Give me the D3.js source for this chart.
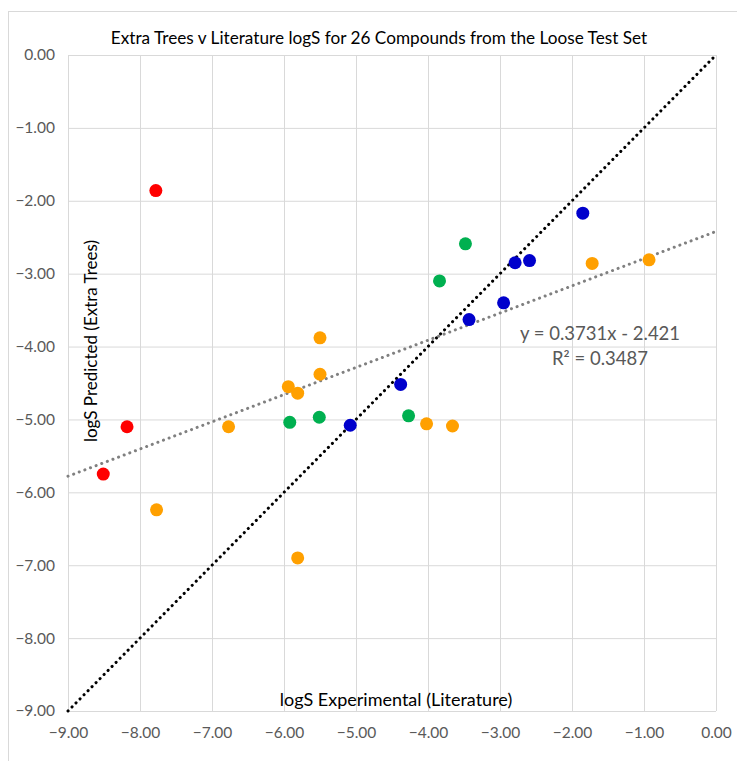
<!DOCTYPE html>
<html>
<head>
<meta charset="utf-8">
<script src="https://cdn.jsdelivr.net/npm/d3@7/dist/d3.min.js"></script>
<style>
  html, body { margin: 0; padding: 0; background: #fff; }
  svg { display: block; }
  text { font-family: Lato, "Open Sans", sans-serif; }
</style>
</head>
<body>
<svg id="chart" width="737" height="761"></svg>
<script>
// Experimental (x) and predicted (y) logS, grouped by colour class
const redX    = [-7.78, -8.18, -8.51];
const redY    = [-1.86, -5.10, -5.75];
const orangeX = [-7.77, -6.77, -5.94, -5.81, -5.50, -5.50, -5.81, -4.02, -3.66, -1.72, -0.93];
const orangeY = [-6.24, -5.10, -4.55, -4.64, -4.38, -3.88, -6.90, -5.06, -5.09, -2.86, -2.81];
const greenX  = [-5.92, -5.51, -4.27, -3.84, -3.48];
const greenY  = [-5.04, -4.97, -4.95, -3.10, -2.59];
const blueX   = [-5.08, -4.38, -3.43, -2.95, -2.79, -2.59, -1.85];
const blueY   = [-5.08, -4.52, -3.63, -3.40, -2.85, -2.82, -2.17];

const xTicks = [-9, -8, -7, -6, -5, -4, -3, -2, -1, 0];
const yTicks = [0, -1, -2, -3, -4, -5, -6, -7, -8, -9];

// Linear trend fitted to all compounds
const trendSlope = 0.3731;
const trendIntercept = -2.421;
const trendLabel = "y = 0.3731x - 2.421";
const r2Label = "R² = 0.3487";

const title = "Extra Trees v Literature logS for 26 Compounds from the Loose Test Set";
const xTitle = "logS Experimental (Literature)";
const yTitle = "logS Predicted (Extra Trees)";

const series = [
  { xs: redX, ys: redY, color: "#ff0000" },
  { xs: orangeX, ys: orangeY, color: "#ffa000" },
  { xs: greenX, ys: greenY, color: "#00b050" },
  { xs: blueX, ys: blueY, color: "#0000cc" }
];

const svg = d3.select("#chart");
const plot = { left: 68, top: 55, width: 648, height: 656 };

const x = d3.scaleLinear().domain([-9, 0]).range([plot.left, plot.left + plot.width]);
const y = d3.scaleLinear().domain([-9, 0]).range([plot.top + plot.height, plot.top]);

// Outer chart frame
svg.append("rect")
  .attr("x", 8.5).attr("y", 11.5)
  .attr("width", 740).attr("height", 760)
  .attr("fill", "#fff").attr("stroke", "#d9d9d9").attr("stroke-width", 1);

// Gridlines
const grid = svg.append("g");
grid.append("g")
  .attr("transform", `translate(0,${plot.top + plot.height})`)
  .call(d3.axisBottom(x).tickValues(xTicks).tickSize(-plot.height).tickFormat(""))
  .call(g => g.select(".domain").remove())
  .call(g => g.selectAll("line").attr("stroke", "#d9d9d9"));
grid.append("g")
  .attr("transform", `translate(${plot.left},0)`)
  .call(d3.axisLeft(y).tickValues(yTicks).tickSize(-plot.width).tickFormat(""))
  .call(g => g.select(".domain").remove())
  .call(g => g.selectAll("line").attr("stroke", "#d9d9d9"));

// Tick labels
const fmt = d3.format(".2f");
svg.append("g")
  .attr("transform", `translate(0,${plot.top + plot.height})`)
  .call(d3.axisBottom(x).tickValues(xTicks).tickSize(0).tickPadding(16).tickFormat(fmt))
  .call(g => g.select(".domain").remove())
  .call(g => g.selectAll("text").attr("fill", "#595959").attr("font-size", 15.5)
    .style("font-family", "Lato, sans-serif"));
svg.append("g")
  .attr("transform", `translate(${plot.left},0)`)
  .call(d3.axisLeft(y).tickValues(yTicks).tickSize(0).tickPadding(13).tickFormat(fmt))
  .call(g => g.select(".domain").remove())
  .call(g => g.selectAll("text").attr("fill", "#595959").attr("font-size", 15.5)
    .style("font-family", "Lato, sans-serif"));

// Identity line y = x
svg.append("line")
  .attr("x1", x(-9)).attr("y1", y(-9))
  .attr("x2", x(0)).attr("y2", y(0))
  .attr("stroke", "#000").attr("stroke-width", 3)
  .attr("stroke-linecap", "round").attr("stroke-dasharray", "0.1 5.6");

// Trend line
svg.append("line")
  .attr("x1", x(-9)).attr("y1", y(trendSlope * -9 + trendIntercept))
  .attr("x2", x(0)).attr("y2", y(trendIntercept))
  .attr("stroke", "#808080").attr("stroke-width", 3)
  .attr("stroke-linecap", "round").attr("stroke-dasharray", "0.1 5.9");

// Points
series.forEach(s => {
  svg.append("g").selectAll("circle")
    .data(s.xs.map((v, i) => [v, s.ys[i]]))
    .join("circle")
    .attr("cx", d => x(d[0]))
    .attr("cy", d => y(d[1]))
    .attr("r", 6.5)
    .attr("fill", s.color);
});

// Trend equation
svg.append("text")
  .attr("x", 600).attr("y", 340)
  .attr("text-anchor", "middle").attr("fill", "#595959").attr("font-size", 18.5)
  .text(trendLabel);
svg.append("text")
  .attr("x", 600).attr("y", 365)
  .attr("text-anchor", "middle").attr("fill", "#595959").attr("font-size", 18.5)
  .text(r2Label);

// Titles
svg.append("text")
  .attr("x", 379).attr("y", 44)
  .attr("text-anchor", "middle").attr("fill", "#000").attr("font-size", 17.2)
  .text(title);
svg.append("text")
  .attr("x", 396).attr("y", 706)
  .attr("text-anchor", "middle").attr("fill", "#000").attr("font-size", 18)
  .text(xTitle);
svg.append("text")
  .attr("transform", "translate(97,341) rotate(-90)")
  .attr("text-anchor", "middle").attr("fill", "#000").attr("font-size", 17)
  .text(yTitle);
</script>
</body>
</html>
